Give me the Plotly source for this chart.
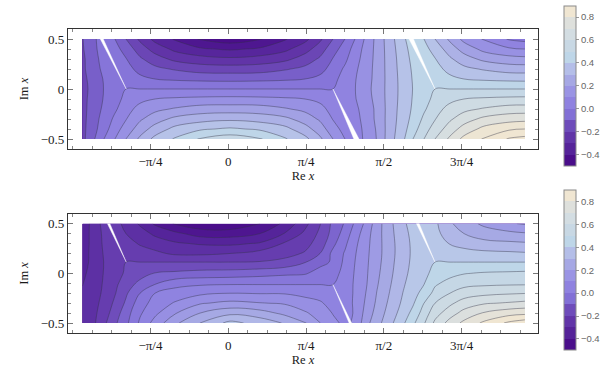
import math
import plotly.graph_objects as go

# Grid of the two contour maps: Re x and Im x
RE_X = [-1.472, -1.376, -1.255, -1.144, -1.033, -0.891, -0.740, -0.538, -0.286, 0.017,
        0.320, 0.572, 0.774, 0.926, 1.057, 1.178, 1.279, 1.400, 1.501, 1.632,
        1.764, 1.865, 1.976, 2.087, 2.238, 2.380, 2.582, 2.834, 2.995]
IM_X_TOP = [0.5, 0.4, 0.3, 0.2, 0.1, 0.0, -0.1, -0.2, -0.3, -0.4, -0.5]
IM_X_BOTTOM = [0.5, 0.4, 0.3, 0.2, 0.113, 0.0, -0.113, -0.2, -0.3, -0.4, -0.5]

# Values, counted in contour steps
STEP_TOP, OFFSET_TOP = 0.075, 0.0
STEP_BOTTOM, OFFSET_BOTTOM = 0.066, 0.015

LEVELS_TOP = [
 [-2.05,-1.25,-.55,-1,-2,-3.2,-4.3,-5.1,-6.1,-6.6,-6.1,-5.1,-4.3,-3.2,-2,-1,0,1.3,2.3,3.57,4.81,5.55,5,4,2.8,1.7,.9,-.1,-.35],
 [-2.1,-1.4,-.45,-.65,-1.4,-2.5,-3.4,-4.25,-4.85,-5.15,-4.85,-4.25,-3.4,-2.5,-1.4,-.55,.4,1.45,2.3,3.51,4.63,5.4,5.35,4.6,3.5,2.6,1.7,1.15,1],
 [-2.2,-1.5,-.6,-.35,-.95,-1.85,-2.55,-3.25,-3.6,-3.8,-3.6,-3.25,-2.55,-1.85,-.95,-.2,.6,1.55,2.3,3.47,4.51,5.26,5.65,5.05,4.15,3.45,2.75,2.4,2.3],
 [-2.2,-1.55,-.75,-.22,-.55,-1.4,-1.75,-2.1,-2.45,-2.5,-2.45,-2.1,-1.75,-1.4,-.55,.15,.8,1.65,2.3,3.45,4.44,5.14,5.85,5.45,4.6,4.25,3.9,3.55,3.52],
 [-2.3,-1.67,-.93,-.4,-.25,-.7,-1,-1.15,-1.25,-1.3,-1.25,-1.15,-1,-.7,-.25,.35,.93,1.7,2.3,3.43,4.38,5.07,5.65,5.75,5.3,5,4.85,4.75,4.72],
 [-2.35,-1.75,-.97,-.5,0,0,0,0,0,0,0,0,0,0,0,.5,.97,1.75,2.35,3.42,4.36,5.03,5.52,6,6,6,6,6,6],
 [-2.3,-1.7,-.93,-.35,.25,.7,1,1.15,1.25,1.3,1.25,1.15,1,.7,.25,.4,.93,1.67,2.3,3.43,4.38,5.07,5.65,6.25,6.7,7,7.15,7.25,7.28],
 [-2.3,-1.65,-.8,-.15,.55,1.4,1.75,2.1,2.45,2.5,2.45,2.1,1.75,1.4,.55,.22,.75,1.55,2.2,3.45,4.44,5.14,5.86,6.55,7.4,7.75,8.1,8.45,8.48],
 [-2.3,-1.55,-.6,.2,.95,1.85,2.55,3.25,3.6,3.8,3.6,3.25,2.55,1.85,.95,.35,.6,1.5,2.2,3.47,4.51,5.29,6.2,6.95,7.85,8.55,9.25,9.6,9.7],
 [-2.3,-1.45,-.45,.6,1.4,2.5,3.4,4.3,4.85,5.15,4.85,4.3,3.4,2.5,1.4,.65,.45,1.4,2.1,3.51,4.63,5.56,6.6,7.4,8.5,9.4,10.3,10.85,11],
 [-2.3,-1.3,0,1,2,3.2,4.3,5.1,6.1,6.6,6.1,5.1,4.3,3.2,2,1,.55,1.25,2.05,3.57,4.81,6,7,8,9.2,10.3,11.1,12.1,12.35],
]

LEVELS_BOTTOM = [
 [-5.65,-4.75,-3.65,-3.7,-4.25,-5.15,-6.15,-7.1,-7.7,-7.8,-7,-5.75,-4.3,-3.05,-1.75,-.9,.15,1.34,2.54,3.74,4.83,5.35,5.25,5.2,4.15,3.45,2.8,2.1,1.9],
 [-5.6,-4.75,-3.8,-3.5,-4,-4.55,-5.2,-5.76,-6.43,-6.45,-6,-4.95,-3.78,-2.8,-1.65,-.55,.5,1.64,2.6,3.69,4.69,5.25,5.55,5.3,4.5,4,3.48,3.27,3.1],
 [-5.6,-4.75,-3.85,-3.5,-3.6,-4.1,-4.47,-4.86,-5.1,-5.2,-4.9,-3.87,-3.35,-2.55,-1.25,-.2,.77,1.76,2.61,3.63,4.6,5.18,5.65,5.5,4.95,4.67,4.33,4.2,4.13],
 [-5.5,-4.74,-3.93,-3.5,-3.25,-3.55,-3.78,-4.17,-4.2,-4,-3.62,-3.35,-2.9,-2,-.75,.1,.92,1.83,2.62,3.62,4.59,5.16,5.55,5.75,5.5,5.35,5.26,5.19,5.11],
 [-5.45,-4.75,-3.98,-3.48,-3,-3,-3,-3,-3,-3,-2.95,-2.7,-2.05,-1.31,-.87,.25,1,1.88,2.67,3.68,4.64,5.19,5.59,6,6,6,6,6,6],
 [-5.25,-4.62,-3.96,-3.38,-2.87,-2.35,-1.95,-1.8,-1.62,-1.55,-1.38,-1.2,-1.1,-.61,-.45,.42,1.07,1.93,2.78,3.78,4.74,5.28,5.76,6.3,6.7,6.95,7.1,7.17,7.22],
 [-5.02,-4.54,-3.9,-3.23,-2.4,-1.72,-.98,-.26,-.08,0,0,0,0,0,0,.55,1.11,2,2.91,3.92,4.89,5.44,6,6.9,7.42,7.75,7.88,7.95,7.97],
 [-4.9,-4.45,-3.85,-3.07,-2.15,-1,0,.41,.8,1,.95,.93,.71,.55,.3,.55,1.12,2.1,3.04,4.05,5.02,5.61,6.38,7.3,8,8.5,8.75,8.9,8.97],
 [-4.87,-4.4,-3.7,-2.8,-1.85,-.45,.39,1.1,1.9,2.25,2.05,1.9,1.43,1.14,.6,.6,1.14,2.24,3.18,4.23,5.19,5.88,7,8,8.8,9.45,9.9,10.1,10.25],
 [-4.86,-4.35,-3.5,-2.5,-1.45,-.13,.78,1.92,3,3.75,3.43,2.75,2.13,1.59,.95,.55,1.12,2.45,3.38,4.44,5.46,6.3,7.45,8.6,9.55,10.35,11.1,11.6,11.75],
 [-4.85,-4.33,-3.22,-2.18,-1.25,.17,1.38,2.8,4,5.3,4.64,3.9,3.1,2.03,1.25,.78,1.17,2.75,3.62,4.72,5.83,6.8,7.9,9.2,10.4,11.25,12.2,13.2,13.6],
]

# White cuts (Re x, Im x)
CUTS_TOP = [
    ([-1.030, -1.292, -1.262], [0.0, 0.5, 0.5]),
    ([1.057, 1.268, 1.320], [0.0, -0.5, -0.5]),
    ([2.087, 1.825, 1.870], [0.0, 0.5, 0.5]),
]
CUTS_BOTTOM = [
    ([-1.030, -1.220, -1.195], [0.113, 0.5, 0.5]),
    ([1.057, 1.220, 1.245], [-0.113, -0.5, -0.5]),
    ([2.087, 1.900, 1.928], [0.113, 0.5, 0.5]),
]

# Legend bands, bottom to top, -0.5 ... 0.9 in steps of 0.1
BAND_COLORS = ["#4a0e8a", "#552399", "#6135a8", "#6e4cba", "#8270d6", "#8f82e0", "#9a94e4",
               "#a6a8e4", "#b4bee8", "#bed6e8", "#c8d8e4", "#d3dde2", "#dee0dc", "#f0e6d2"]
BAR_TICKS = [-0.4, -0.2, 0.0, 0.2, 0.4, 0.6, 0.8]
BAR_LABELS = ["\u22120.4", "\u22120.2", "0.0", "0.2", "0.4", "0.6", "0.8"]

X_TICKS = [-math.pi / 4, 0, math.pi / 4, math.pi / 2, 3 * math.pi / 4]
X_LABELS = ["\u2212\u03c0/4", "0", "\u03c0/4", "\u03c0/2", "3\u03c0/4"]
X_MINOR = [k * math.pi / 16 for k in range(-8, 16)]
Y_TICKS = [-0.5, 0, 0.5]
Y_LABELS = ["\u22120.5", "0", "0.5"]
Y_MINOR = [k / 10 for k in range(-5, 6)]

W, H = 615, 376
n = len(BAND_COLORS)
zmin, zmax = -0.5, 0.9
smooth = [[(i + 0.5) / n, c] for i, c in enumerate(BAND_COLORS)]
smooth = [[0, BAND_COLORS[0]]] + smooth + [[1, BAND_COLORS[-1]]]
discrete = []
for i, c in enumerate(BAND_COLORS):
    discrete += [[i / n, c], [(i + 1) / n, c]]

fig = go.Figure()


def panel(idx, rows, im, step, off, cuts, frame, bar):
    xa = "x" if idx == 1 else "x2"
    ya = "y" if idx == 1 else "y2"
    z = [[off + step * v for v in row] for row in rows][::-1]
    fig.add_trace(go.Contour(
        x=RE_X, y=im[::-1], z=z, xaxis=xa, yaxis=ya, showscale=False,
        colorscale=smooth, zmin=zmin, zmax=zmax,
        contours=dict(coloring="fill", start=off - 9 * step, end=off + 15 * step, size=step),
        line=dict(color="rgba(50,50,70,0.6)", width=0.7, smoothing=1.1),
        hoverinfo="skip"))
    for cx, cy in cuts:
        fig.add_trace(go.Scatter(x=cx + cx[:1], y=cy + cy[:1], xaxis=xa, yaxis=ya, mode="lines",
                                 fill="toself", fillcolor="white", line=dict(color="white", width=0.4),
                                 showlegend=False, hoverinfo="skip"))
    fig.add_trace(go.Scatter(
        x=[None], y=[None], xaxis=xa, yaxis=ya, mode="markers", showlegend=False,
        marker=dict(color=[zmin, zmax], cmin=zmin, cmax=zmax, colorscale=discrete, showscale=True,
                    colorbar=dict(x=564.3 / W, xanchor="left", xpad=0, y=1 - bar[0] / H, yanchor="top", ypad=0,
                                  lenmode="pixels", len=bar[1] - bar[0], thicknessmode="pixels", thickness=12.4,
                                  outlinecolor="#8a8a8a", outlinewidth=1, borderwidth=0,
                                  tickmode="array", tickvals=BAR_TICKS, ticktext=BAR_LABELS,
                                  ticks="outside", ticklen=3, tickwidth=1, tickcolor="#999999",
                                  tickfont=dict(family="Liberation Sans", size=9.5, color="#666666")))))
    axis_font = dict(family="Liberation Serif", size=13, color="#1a1a1a")
    title_font = dict(family="Liberation Serif", size=12.5, color="#1a1a1a")
    fig.update_layout({
        ("xaxis" if idx == 1 else "xaxis2"): dict(
            domain=[68 / W, 538 / W], range=[-1.618, 3.127], anchor=ya, showgrid=False, zeroline=False,
            tickmode="array", tickvals=X_TICKS, ticktext=X_LABELS, ticks="inside", ticklen=5, tickwidth=1,
            tickcolor="#777777", tickfont=axis_font, showline=True, linecolor="#333333", linewidth=1.2,
            mirror="allticks", minor=dict(tickmode="array", tickvals=X_MINOR, ticks="inside", ticklen=3,
                                          tickcolor="#888888", tickwidth=1),
            title=dict(text="Re <i>x</i>", font=title_font, standoff=2)),
        ("yaxis" if idx == 1 else "yaxis2"): dict(
            domain=[1 - frame[1] / H, 1 - frame[0] / H], range=[-0.6, 0.6], anchor=xa, showgrid=False, zeroline=False,
            tickmode="array", tickvals=Y_TICKS, ticktext=Y_LABELS, ticks="inside", ticklen=5, tickwidth=1,
            tickcolor="#777777", tickfont=axis_font, showline=True, linecolor="#333333", linewidth=1.2,
            mirror="allticks", minor=dict(tickmode="array", tickvals=Y_MINOR, ticks="inside", ticklen=3,
                                          tickcolor="#888888", tickwidth=1),
            title=dict(text="Im <i>x</i>", font=title_font, standoff=9)),
    })


panel(1, LEVELS_TOP, IM_X_TOP, STEP_TOP, OFFSET_TOP, CUTS_TOP, (29, 149), (5.7, 166))
panel(2, LEVELS_BOTTOM, IM_X_BOTTOM, STEP_BOTTOM, OFFSET_BOTTOM, CUTS_BOTTOM, (213.7, 333), (190.3, 350.7))

fig.update_layout(width=W, height=H, autosize=False, margin=dict(l=0, r=0, t=0, b=0),
                  paper_bgcolor="white", plot_bgcolor="white", showlegend=False)
fig.write_html("out.html", config={"displayModeBar": False}, post_script="document.body.style.margin='0';")
